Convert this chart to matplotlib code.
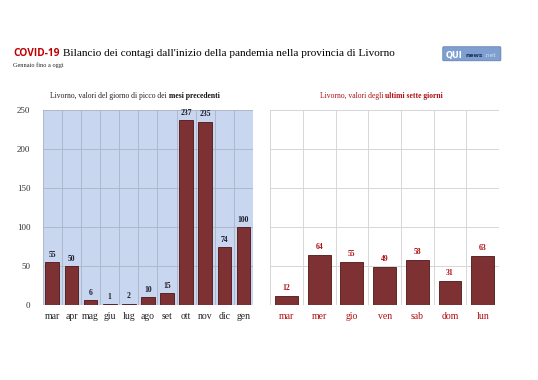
"""COVID-19 Livorno — picchi mensili vs ultimi sette giorni"""
import matplotlib
matplotlib.use('Agg')
import matplotlib.pyplot as plt
import numpy as np
from matplotlib.patches import FancyBboxPatch

plt.rcParams.update({'font.family': 'serif', 'font.serif': ['Liberation Serif', 'DejaVu Serif'],
                     'axes.linewidth': 0})

MONTHS = ['mar', 'apr', 'mag', 'giu', 'lug', 'ago', 'set', 'ott', 'nov', 'dic', 'gen']
month_peaks = [55, 50, 6, 1, 2, 10, 15, 237, 235, 74, 100]

DAYS = ['mar', 'mer', 'gio', 'ven', 'sab', 'dom', 'lun']
day_values = [12, 64, 55, 49, 58, 31, 63]

YTICKS = [0, 50, 100, 150, 200, 250]

BAR = '#7d3132'
EDGE = '#4e1516'
RED = '#b00f14'
NAVY = '#1b1b2a'

fig = plt.figure(figsize=(5.38, 3.80), dpi=100)
fig.patch.set_facecolor('white')

axL = fig.add_axes([0.0794, 0.197, 0.391, 0.513])
axR = fig.add_axes([0.502, 0.197, 0.4257, 0.513])

# left panel
x = np.arange(len(MONTHS))
axL.set_facecolor('#c8d7ef')
axL.bar(x, month_peaks, 0.72, color=BAR, edgecolor=EDGE, linewidth=0.6, zorder=3)
for xi, v in zip(x, month_peaks):
    axL.annotate(str(v), (xi, v), xytext=(0, 2.5), textcoords='offset points',
                 ha='center', va='bottom', fontsize=5.5, fontweight='bold', color=NAVY)
axL.set_xlim(-0.5, len(MONTHS) - 0.5)
axL.set_ylim(0, 250)
axL.set_yticks(YTICKS)
axL.set_xticks(x)
axL.set_xticklabels(MONTHS, fontsize=7, color='#222222')
axL.set_xticks(np.arange(-0.5, len(MONTHS)), minor=True)
axL.tick_params(axis='y', length=0, pad=9, labelsize=6.5, colors='#333333')
axL.tick_params(axis='x', which='both', length=0, pad=5)
axL.grid(True, axis='y', color='#aab4c6', linewidth=0.6, zorder=0)
axL.grid(True, axis='x', which='minor', color='#aab4c6', linewidth=0.6, zorder=0)
axL.set_axisbelow(True)

# right panel
d = np.arange(len(DAYS))
axR.set_facecolor('white')
axR.bar(d, day_values, 0.7, color=BAR, edgecolor=EDGE, linewidth=0.6, zorder=3)
for di, v in zip(d, day_values):
    axR.annotate(str(v), (di, v), xytext=(0, 3), textcoords='offset points',
                 ha='center', va='bottom', fontsize=5.5, fontweight='bold', color=RED)
axR.set_xlim(-0.5, len(DAYS) - 0.5)
axR.set_ylim(0, 250)
axR.set_yticks(YTICKS)
axR.set_yticklabels([])
axR.set_xticks(d)
axR.set_xticklabels(DAYS, fontsize=7, color=RED)
axR.set_xticks(np.arange(-0.5, len(DAYS)), minor=True)
axR.tick_params(axis='both', which='both', length=0)
axR.tick_params(axis='x', pad=5)
axR.grid(True, axis='y', color='#d6d6d6', linewidth=0.7, zorder=0)
axR.grid(True, axis='x', which='minor', color='#d6d6d6', linewidth=0.7, zorder=0)
axR.set_axisbelow(True)

# panel titles (plain + bold part)
fig.text(0.3141, 0.742, 'Livorno, valori del giorno di picco dei ', ha='right', va='baseline',
         fontsize=5.5, color='#222222')
fig.text(0.3141, 0.742, 'mesi precedenti', ha='left', va='baseline', fontsize=5.5,
         fontweight='bold', color='#111111')
fig.text(0.7156, 0.742, 'Livorno, valori degli ', ha='right', va='baseline', fontsize=5.5, color=RED)
fig.text(0.7156, 0.742, 'ultimi sette giorni', ha='left', va='baseline', fontsize=5.5,
         fontweight='bold', color=RED)

# main title
fig.text(0.024, 0.853, 'COVID-19', ha='left', va='baseline', fontsize=7.3,
         fontweight='bold', color='#c00000', family=['Open Sans', 'DejaVu Sans'])
fig.text(0.1175, 0.853, 'Bilancio dei contagi dall\'inizio della pandemia nella provincia di Livorno',
         ha='left', va='baseline', fontsize=8.1, color='black')
fig.text(0.024, 0.823, 'Gennaio fino a oggi', ha='left', va='baseline', fontsize=4.5, color='#222222')

# logo
logo = FancyBboxPatch((0.825, 0.842), 0.104, 0.033, boxstyle='round,pad=0.002',
                      transform=fig.transFigure, facecolor='#7f9fd0', edgecolor='#5a78a8',
                      linewidth=0.5)
fig.patches.append(logo)
fig.text(0.828, 0.848, 'QUI', ha='left', va='baseline', fontsize=6, fontweight='bold',
         color='white', family=['DejaVu Sans'])
fig.text(0.8645, 0.849, 'news', ha='left', va='baseline', fontsize=4.3, fontweight='bold',
         color='#1c2f5a', family=['DejaVu Sans'])
fig.text(0.901, 0.849, '.net', ha='left', va='baseline', fontsize=4.3,
         color='#d5e0f2', family=['DejaVu Sans'])

fig.savefig('out.png', dpi=100, facecolor='white')
